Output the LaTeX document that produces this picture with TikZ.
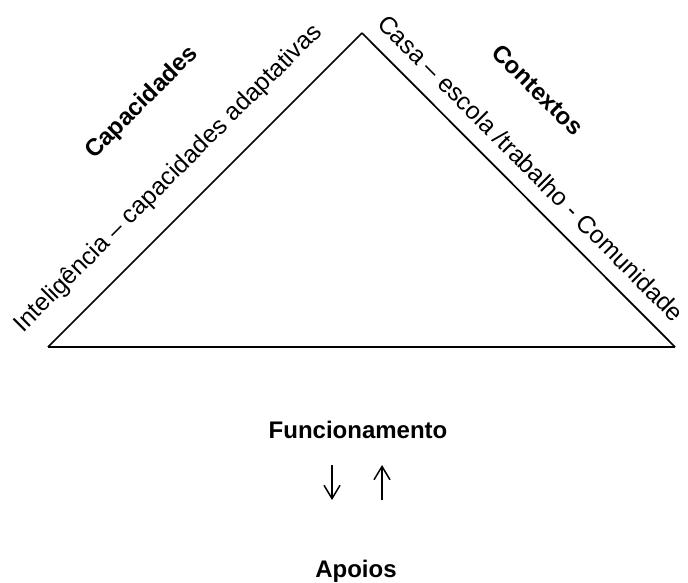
\documentclass[tikz,border=0pt]{standalone}
\usepackage{fontspec}
\setmainfont{Liberation Sans}
\usetikzlibrary{arrows.meta}

\begin{document}
\begin{tikzpicture}[
    x=0.75pt, y=-0.75pt,
    lado/.style={draw, line width=1.3pt},
    texto/.style={font=\fontsize{18.5}{21}\selectfont, inner sep=2pt},
    titulo/.style={font=\bfseries\fontsize{18}{21}\selectfont, inner sep=0pt},
    seta/.style={draw, line width=1.1pt, -{Straight Barb[length=10pt, width=12pt, line width=1.1pt]}}
]
\useasboundingbox (0,0) rectangle (688,582);

\coordinate (BaseEsq) at (48,347);
\coordinate (Topo) at (362,33);
\coordinate (BaseDir) at (675,347);

\draw[lado] (BaseEsq) -- (Topo)
  node (Inteligencia) [texto, pos=0.46, sloped, above=14pt] {Inteligência – capacidades adaptativas};
\draw[lado] (Topo) -- (BaseDir)
  node (Casa) [texto, pos=0.485, sloped, above=9pt] {Casa – escola /trabalho - Comunidade};
\draw[lado] (BaseDir) -- (BaseEsq);

\node (Capacidades) [titulo, rotate=45] at (142,103) {Capacidades};
\node (Contextos) [titulo, rotate=-45] at (538,90) {Contextos};

\node (Funcionamento) [titulo, anchor=base] at (358,438) {Funcionamento};
\node (Apoios) [titulo, anchor=base] at (356,577) {Apoios};

\coordinate (DesceIni) at (332,465);
\coordinate (DesceFim) at (332,500);
\coordinate (SobeIni) at (382,500);
\coordinate (SobeFim) at (382,465);
\draw[seta] (DesceIni) -- (DesceFim);
\draw[seta] (SobeIni) -- (SobeFim);

\end{tikzpicture}
\end{document}
